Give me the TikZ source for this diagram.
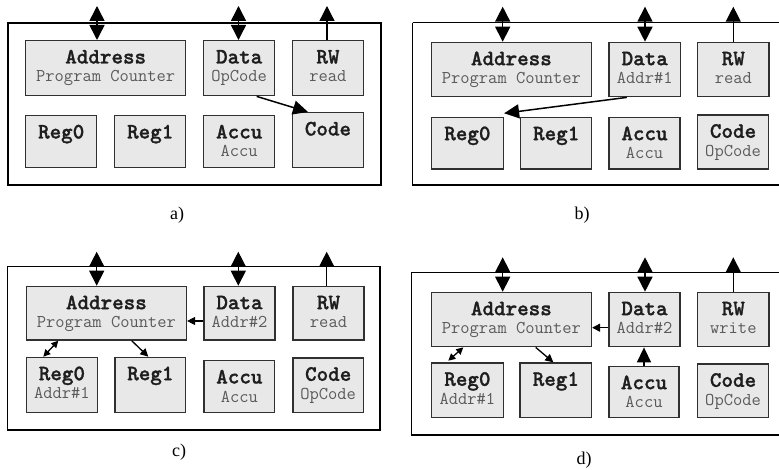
\documentclass[tikz,border=0pt]{standalone}
\usepackage{fontspec}
\newfontfamily\capfont{Liberation Serif}
\newfontfamily\regtitlefont{lmmonolt10-bold.otf}[FakeBold=1.2]
\usetikzlibrary{arrows.meta}

\definecolor{boxfill}{HTML}{E8E8E8}
\definecolor{boxline}{HTML}{303030}
\definecolor{titlecol}{HTML}{1E1E1E}
\definecolor{subcol}{HTML}{5A5A5A}

% register box: name, left, top, width, height (pixel-like units, y grows downward)
\newcommand{\regbox}[5]{%
  \node[regbox, minimum width=#4pt, minimum height=#5pt] (#1) at (#2,#3) {};}
% title and optional subtitle placed relative to the top of a register box
\newcommand{\regtext}[3]{%
  \node[regtitle] (#1t) at ([yshift=-23.5pt]#1.north) {#2};
  \if\relax\detokenize{#3}\relax\else
    \node[regsub] (#1s) at ([yshift=-42pt]#1.north) {#3};
  \fi}

\tikzset{
  x=1pt, y=-1pt,
  regbox/.style={draw=boxline, fill=boxfill, line width=1.4pt, anchor=north west, inner sep=0pt},
  regtitle/.style={anchor=base, inner sep=0pt, text=titlecol,
    font=\regtitlefont\fontsize{22}{22}\selectfont},
  regsub/.style={anchor=base, inner sep=0pt, text=subcol,
    font=\ttfamily\fontsize{18}{18}\selectfont},
  cpuframe/.style={draw=black, line width=1.2pt},
  bus/.style={line width=1.5pt,
    {Triangle[length=15pt,width=15pt]}-{Triangle[length=15pt,width=15pt]}},
  busout/.style={line width=1.3pt, -{Triangle[length=15pt,width=15pt]}},
  move/.style={line width=1.5pt, -{Triangle[length=15pt,width=14pt]}},
  link/.style={line width=1.3pt, -{Triangle[length=8pt,width=8pt]}},
  dlink/.style={line width=1.3pt,
    {Triangle[length=7pt,width=7pt]}-{Triangle[length=7pt,width=7pt]}},
  caption/.style={font=\capfont\fontsize{18}{18}\selectfont, inner sep=0pt}
}

\begin{document}
\begin{tikzpicture}
\useasboundingbox (0,0) rectangle (779,470);
\clip (0,0) rectangle (779,470);
\fill[white] (0,0) rectangle (779,470);

% ---------------- a) fetch opcode ----------------
\draw[cpuframe] (8,23) rectangle (381,185);
\regbox{aAddr}{25}{40}{160}{55}
\regbox{aData}{203}{40}{71}{55}
\regbox{aRW}{292}{40}{70.5}{55}
\regbox{aReg0}{25}{115}{71}{52}
\regbox{aReg1}{114}{115}{71}{52}
\regbox{aAccu}{203}{115}{71}{52}
\regbox{aCode}{292}{112}{70.5}{55}
\regtext{aAddr}{Address}{Program Counter}
\regtext{aData}{Data}{OpCode}
\regtext{aRW}{RW}{read}
\regtext{aReg0}{Reg0}{}
\regtext{aReg1}{Reg1}{}
\regtext{aAccu}{Accu}{Accu}
\regtext{aCode}{Code}{}
\coordinate (aAbus) at (97,6);
\coordinate (aDbus) at (238.5,6);
\coordinate (aRbus) at (327,6);
\draw[bus] (aAbus) -- (aAbus |- aAddr.north);
\draw[bus] (aDbus) -- (aDbus |- aData.north);
\draw[busout] (aRbus |- aRW.north) -- (aRbus);
\draw[move] ([xshift=17.5pt]aData.south) -- ([xshift=16pt]aCode.north west);
\node[caption] (acap) at (177,215) {a)};

% ---------------- b) fetch address ----------------
\draw[cpuframe] (412.7,22.7) -- (800,22.7) (412.7,22.7) -- (412.7,185) -- (800,185);
\regbox{bAddr}{430.7}{41.7}{160}{54.3}
\regbox{bData}{608.3}{41.7}{71.5}{54.3}
\regbox{bRW}{697}{41.7}{71.3}{54.3}
\regbox{bReg0}{430.7}{116.7}{72}{51.6}
\regbox{bReg1}{520}{116.7}{71}{51.6}
\regbox{bAccu}{608.3}{116.7}{71}{51.6}
\regbox{bCode}{697}{114.3}{70.7}{54}
\regtext{bAddr}{Address}{Program Counter}
\regtext{bData}{Data}{Addr\#1}
\regtext{bRW}{RW}{read}
\regtext{bReg0}{Reg0}{}
\regtext{bReg1}{Reg1}{}
\regtext{bAccu}{Accu}{Accu}
\regtext{bCode}{Code}{OpCode}
\coordinate (bAbus) at (502.7,6.7);
\coordinate (bDbus) at (645,6.7);
\coordinate (bRbus) at (733.3,6.7);
\draw[bus] (bAbus) -- (bAbus |- bAddr.north);
\draw[bus] (bDbus) -- (bDbus |- bData.north);
\draw[busout] (bRbus |- bRW.north) -- (bRbus);
\draw[move] ([xshift=-18pt]bData.south) -- ([yshift=3.4pt]bReg0.north east);
\node[caption] (bcap) at (582,215) {b)};

% ---------------- c) address to program counter ----------------
\draw[cpuframe] (7.3,266.7) rectangle (380,430);
\regbox{cAddr}{25.7}{285.7}{160}{53.6}
\regbox{cData}{203.3}{285.7}{71}{53.6}
\regbox{cRW}{292.3}{285.7}{71}{53.6}
\regbox{cReg0}{25.7}{356.7}{71}{55.3}
\regbox{cReg1}{114.3}{356.7}{70.7}{55.3}
\regbox{cAccu}{203.3}{360}{70.7}{52}
\regbox{cCode}{292.3}{357.3}{70.4}{54.7}
\regtext{cAddr}{Address}{Program Counter}
\regtext{cData}{Data}{Addr\#2}
\regtext{cRW}{RW}{read}
\regtext{cReg0}{Reg0}{Addr\#1}
\regtext{cReg1}{Reg1}{}
\regtext{cAccu}{Accu}{Accu}
\regtext{cCode}{Code}{OpCode}
\coordinate (cAbus) at (96.7,251.7);
\coordinate (cDbus) at (238.3,251.7);
\coordinate (cRbus) at (326.7,251.7);
\coordinate (cDA) at (0,321);
\draw[bus] (cAbus) -- (cAbus |- cAddr.north);
\draw[bus] (cDbus) -- (cDbus |- cData.north);
\draw[busout] (cRbus |- cRW.north) -- (cRbus);
\draw[link] (cData.west |- cDA) -- (cAddr.east |- cDA);
\draw[dlink] ([xshift=17.6pt]cReg0.north west) -- ([xshift=32.6pt]cAddr.south west);
\draw[link] ([xshift=106pt]cAddr.south west) -- ([xshift=34pt]cReg1.north west);
\node[caption] (ccap) at (179,452) {c)};

% ---------------- d) accumulator written to memory ----------------
\draw[cpuframe] (411.7,272.3) -- (800,272.3) (411.7,272.3) -- (411.7,435) -- (800,435);
\regbox{dAddr}{430.7}{291.7}{160}{54.3}
\regbox{dData}{608.3}{291.7}{71}{54.3}
\regbox{dRW}{697}{291.7}{71.3}{54.3}
\regbox{dReg0}{430.7}{362.3}{72}{54.7}
\regbox{dReg1}{519.3}{362.3}{71.7}{54.7}
\regbox{dAccu}{608.3}{365.7}{70}{51.3}
\regbox{dCode}{697}{363.3}{70.7}{53.7}
\regtext{dAddr}{Address}{Program Counter}
\regtext{dData}{Data}{Addr\#2}
\regtext{dRW}{RW}{write}
\regtext{dReg0}{Reg0}{Addr\#1}
\regtext{dReg1}{Reg1}{}
\regtext{dAccu}{Accu}{Accu}
\regtext{dCode}{Code}{OpCode}
\coordinate (dAbus) at (502.7,257.3);
\coordinate (dDbus) at (645,257.3);
\coordinate (dRbus) at (733.3,257.3);
\coordinate (dDA) at (0,327.7);
\draw[bus] (dAbus) -- (dAbus |- dAddr.north);
\draw[bus] (dDbus) -- (dDbus |- dData.north);
\draw[busout] (dRbus |- dRW.north) -- (dRbus);
\draw[move] (dAccu.north) -- (dAccu.north |- dData.south);
\draw[link] (dData.west |- dDA) -- (dAddr.east |- dDA);
\draw[dlink] ([xshift=17.6pt,yshift=1.6pt]dReg0.north west) -- ([xshift=32.6pt]dAddr.south west);
\draw[link] ([xshift=105pt]dAddr.south west) -- ([xshift=34pt]dReg1.north west);
\node[caption] (dcap) at (584,460) {d)};
\end{tikzpicture}
\end{document}
